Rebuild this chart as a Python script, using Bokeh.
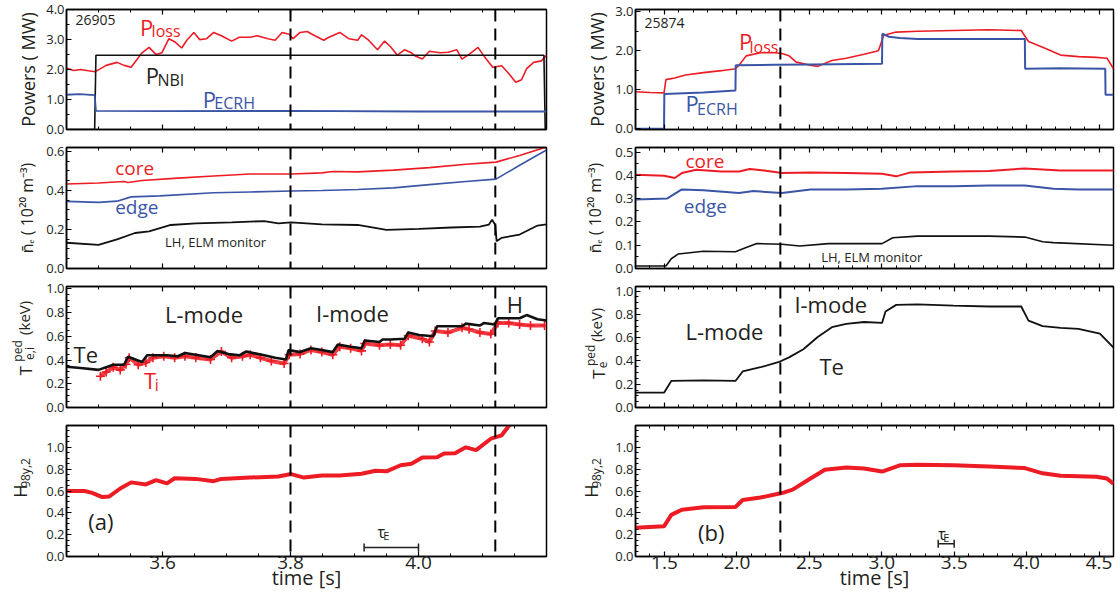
import numpy as np
from bokeh.plotting import figure
from bokeh.layouts import row, column
from bokeh.models import Range1d, LinearAxis, FixedTicker, Span, Label, NumeralTickFormatter
from bokeh.embed import file_html
from bokeh.resources import INLINE

RED = "#ed1c24"
BLUE = "#3a55a6"
BLACK = "#111111"
TXT = "#231f20"
FONT = "Open Sans"

# ---------------- shot 26905 (a) ----------------
a_t_loss = [3.450,3.461,3.472,3.484,3.495,3.512,3.529,3.540,3.551,3.568,3.579,3.590,3.599,3.610,3.619,3.630,
            3.638,3.649,3.658,3.669,3.680,3.692,3.708,3.720,3.737,3.748,3.765,3.776,3.787,3.798,3.804,3.815,
            3.826,3.838,3.852,3.860,3.877,3.891,3.905,3.911,3.922,3.936,3.947,3.956,3.967,3.978,3.989,3.995,
            4.006,4.017,4.034,4.046,4.060,4.068,4.079,4.093,4.104,4.116,4.130,4.141,4.152,4.161,4.169,4.180,
            4.192,4.200]
a_p_loss = [2.05,1.97,2.00,1.96,1.93,2.14,2.24,2.14,2.08,2.56,2.74,2.50,2.56,3.03,2.93,2.72,
            2.98,3.24,3.00,3.03,3.24,3.13,2.95,3.08,3.08,3.13,3.03,2.98,3.24,3.18,3.03,3.24,
            3.27,3.13,2.98,3.08,3.24,3.03,2.98,3.16,2.98,2.66,2.95,2.77,2.48,2.66,2.56,2.45,
            2.35,2.61,2.56,2.58,2.66,2.35,2.51,2.74,2.40,2.08,2.13,1.87,1.58,1.66,2.03,2.24,
            2.29,2.48]
a_t_nbi = [3.450,3.494,3.496,4.196,4.198,4.200]
a_p_nbi = [0.0,0.0,2.48,2.48,0.0,0.0]
a_t_ecrh = [3.450,3.470,3.494,3.496,3.600,3.800,4.000,4.200]
a_p_ecrh = [1.16,1.18,1.15,0.62,0.61,0.62,0.60,0.60]

a_t_core = [3.450,3.500,3.540,3.546,3.568,3.624,3.680,3.737,3.801,3.849,3.866,3.905,3.961,4.017,4.074,4.121,4.158,4.200]
a_n_core = [0.433,0.438,0.446,0.441,0.451,0.463,0.474,0.484,0.484,0.490,0.497,0.495,0.504,0.517,0.534,0.545,0.579,0.623]
a_t_edge = [3.450,3.500,3.529,3.551,3.596,3.680,3.737,3.801,3.849,3.905,3.961,4.017,4.074,4.121,4.158,4.200]
a_n_edge = [0.344,0.339,0.345,0.367,0.372,0.388,0.392,0.397,0.400,0.405,0.413,0.430,0.446,0.458,0.529,0.607]
a_t_mon = [3.450,3.500,3.529,3.557,3.579,3.613,3.652,3.708,3.759,3.781,3.801,3.849,3.905,3.950,4.001,4.051,
           4.096,4.110,4.115,4.120,4.122,4.130,4.158,4.186,4.200]
a_n_mon = [0.132,0.121,0.149,0.182,0.190,0.223,0.231,0.236,0.243,0.231,0.236,0.226,0.223,0.198,0.203,0.210,
           0.215,0.225,0.250,0.223,0.140,0.157,0.174,0.220,0.226]

a_t_te = [3.450,3.472,3.500,3.523,3.540,3.546,3.568,3.576,3.607,3.624,3.635,3.652,3.675,3.686,3.703,3.720,
          3.731,3.759,3.776,3.793,3.797,3.815,3.832,3.849,3.866,3.874,3.894,3.911,3.916,3.939,3.944,3.956,
          3.978,3.984,4.001,4.023,4.029,4.068,4.074,4.096,4.102,4.119,4.124,4.158,4.169,4.186,4.200]
a_te = [0.344,0.333,0.317,0.360,0.360,0.427,0.384,0.440,0.440,0.432,0.459,0.445,0.424,0.477,0.450,0.440,
        0.472,0.440,0.419,0.405,0.485,0.467,0.499,0.485,0.467,0.531,0.512,0.499,0.565,0.552,0.573,0.573,
        0.579,0.632,0.611,0.600,0.685,0.685,0.707,0.691,0.712,0.699,0.752,0.752,0.779,0.744,0.733]
a_t_ti = [3.503,3.512,3.523,3.534,3.543,3.548,3.562,3.574,3.585,3.602,3.619,3.635,3.652,3.675,3.692,3.708,
          3.725,3.737,3.753,3.770,3.790,3.798,3.815,3.832,3.849,3.866,3.877,3.894,3.911,3.916,3.939,3.956,
          3.972,3.984,4.006,4.017,4.026,4.046,4.068,4.079,4.096,4.113,4.124,4.141,4.158,4.175,4.197]
a_ti = [0.264,0.299,0.339,0.317,0.365,0.419,0.360,0.379,0.419,0.432,0.419,0.432,0.419,0.405,0.472,0.419,
        0.432,0.445,0.419,0.392,0.371,0.445,0.451,0.485,0.467,0.445,0.512,0.499,0.477,0.539,0.525,0.531,
        0.525,0.605,0.579,0.552,0.645,0.632,0.672,0.659,0.632,0.619,0.712,0.712,0.699,0.691,0.691]

a_t_h = [3.450,3.478,3.489,3.506,3.517,3.534,3.551,3.562,3.574,3.590,3.607,3.619,3.652,3.680,3.692,3.737,
         3.781,3.801,3.821,3.849,3.877,3.911,3.933,3.950,3.972,3.989,4.006,4.029,4.040,4.057,4.074,4.090,
         4.113,4.130,4.141,4.147]
a_h = [0.600,0.600,0.585,0.544,0.550,0.623,0.679,0.670,0.660,0.700,0.670,0.717,0.711,0.690,0.711,0.723,
       0.733,0.755,0.723,0.742,0.742,0.758,0.786,0.780,0.836,0.849,0.906,0.910,0.943,0.946,1.000,0.975,
       1.079,1.110,1.195,1.230]
a_marks = [3.80, 4.12]
a_tau = [3.915, 4.0]

# ---------------- shot 25874 (b) ----------------
b_t_loss = [1.300,1.400,1.497,1.510,1.571,1.645,1.769,1.892,1.990,2.015,2.064,2.163,2.262,2.311,2.360,2.410,
            2.508,2.558,2.656,2.755,2.878,2.977,3.014,3.100,3.248,3.495,3.741,3.963,4.013,4.111,4.235,4.358,
            4.481,4.555,4.600]
b_p_loss = [0.95,0.93,0.92,1.26,1.30,1.38,1.44,1.49,1.54,1.63,1.87,1.95,1.95,1.93,1.87,1.71,
            1.63,1.60,1.75,1.81,1.91,2.00,2.40,2.48,2.50,2.52,2.54,2.52,2.24,2.09,1.89,1.85,
            1.83,1.81,1.54]
b_t_ecrh = [1.300,1.497,1.499,1.769,1.990,1.992,2.262,2.508,3.002,3.004,3.050,3.125,3.248,3.495,3.741,3.988,
            3.990,4.235,4.543,4.545,4.600]
b_p_ecrh = [0.0,0.0,0.89,0.93,0.98,1.63,1.64,1.65,1.67,2.44,2.36,2.33,2.30,2.30,2.30,2.30,
            1.54,1.55,1.54,0.87,0.87]

b_t_core = [1.300,1.497,1.571,1.620,1.719,1.892,2.015,2.089,2.188,2.311,2.508,2.755,3.002,3.100,3.199,3.495,
            3.741,3.988,4.235,4.600]
b_n_core = [0.403,0.399,0.389,0.410,0.424,0.417,0.417,0.428,0.421,0.410,0.413,0.410,0.407,0.396,0.413,0.417,
            0.419,0.430,0.421,0.421]
b_t_edge = [1.300,1.520,1.620,1.769,2.015,2.114,2.311,2.508,2.755,3.002,3.248,3.495,3.741,3.988,4.185,4.358,4.600]
b_n_edge = [0.296,0.301,0.340,0.336,0.324,0.333,0.324,0.340,0.340,0.343,0.354,0.354,0.357,0.357,0.343,0.340,0.340]
b_t_mon = [1.300,1.510,1.547,1.596,1.769,1.990,2.064,2.138,2.311,2.434,2.632,3.002,3.076,3.248,3.495,3.741,
           3.988,4.111,4.185,4.600]
b_n_mon = [0.011,0.011,0.042,0.0625,0.074,0.072,0.090,0.107,0.104,0.097,0.107,0.107,0.132,0.139,0.139,0.139,
           0.135,0.115,0.111,0.100]

b_t_te = [1.300,1.497,1.547,1.769,1.990,2.040,2.163,2.286,2.360,2.459,2.558,2.656,2.755,2.878,3.002,3.026,
          3.100,3.248,3.495,3.741,3.963,4.013,4.111,4.235,4.358,4.506,4.600]
b_te = [0.127,0.127,0.228,0.234,0.228,0.310,0.346,0.389,0.431,0.501,0.606,0.690,0.718,0.735,0.727,0.825,
        0.882,0.887,0.876,0.868,0.868,0.746,0.699,0.685,0.676,0.634,0.515]

b_t_h = [1.300,1.497,1.547,1.620,1.769,1.990,2.040,2.163,2.311,2.385,2.508,2.607,2.755,2.878,3.002,3.125,
         3.248,3.495,3.741,3.988,4.111,4.235,4.481,4.555,4.600]
b_h = [0.263,0.276,0.381,0.429,0.451,0.454,0.517,0.540,0.581,0.613,0.714,0.794,0.816,0.806,0.778,0.835,
       0.841,0.835,0.825,0.810,0.762,0.740,0.730,0.714,0.667]
b_marks = [2.30]
b_tau = [3.39, 3.50]

A_XT = [3.6, 3.8, 4.0]
B_XT = [1.5, 2.0, 2.5, 3.0, 3.5, 4.0, 4.5]


def style_axis(ax, fs="13px"):
    ax.axis_line_color = "black"
    ax.axis_line_width = 1.5
    ax.major_tick_in = 5
    ax.major_tick_out = 0
    ax.minor_tick_in = 3
    ax.minor_tick_out = 0
    ax.major_tick_line_color = "black"
    ax.minor_tick_line_color = "black"
    ax.major_tick_line_width = 1.2
    ax.major_label_text_font = FONT
    ax.major_label_text_font_size = fs
    ax.major_label_text_color = TXT
    ax.axis_label_text_font = FONT
    ax.axis_label_text_font_style = "normal"
    ax.axis_label_text_color = TXT


def hide_labels(ax):
    ax.major_label_text_color = None
    ax.major_label_text_font_size = "1px"
    ax.major_label_standoff = 0


def make(width, height, xr, yr, yt, ymin, br, bt, bb, xt, xmin, bottom):
    p = figure(width=width, height=height, x_range=Range1d(*xr), y_range=Range1d(*yr),
               output_backend="svg", toolbar_location=None,
               min_border_left=24, min_border_right=br, min_border_top=bt, min_border_bottom=bb)
    p.grid.visible = False
    p.outline_line_color = "black"
    p.outline_line_width = 1.5
    p.xaxis.ticker = FixedTicker(ticks=xt, minor_ticks=xmin)
    p.yaxis.ticker = FixedTicker(ticks=yt, minor_ticks=ymin)
    p.yaxis.formatter = NumeralTickFormatter(format="0.0")
    p.xaxis.formatter = NumeralTickFormatter(format="0.0")
    style_axis(p.xaxis[0], "19px")
    style_axis(p.yaxis[0], "13px")
    p.yaxis.major_label_standoff = 2
    if bottom:
        p.xaxis.axis_label = "time [s]"
        p.xaxis.axis_label_text_font_size = "20px"
        p.xaxis.axis_label_standoff = -8
        p.xaxis.major_label_standoff = -1
    else:
        hide_labels(p.xaxis[0])
    top = LinearAxis(ticker=FixedTicker(ticks=xt, minor_ticks=xmin))
    style_axis(top)
    hide_labels(top)
    p.add_layout(top, "above")
    return p


def lab(p, x, y, text, size, color=TXT, align="left", angle=0.0):
    p.add_layout(Label(x=x, y=y, text=text, text_font=FONT, text_font_size=f"{size}px",
                       text_color=color, text_align=align, text_baseline="middle", angle=angle))


def side_fig(width, height, parts):
    # a narrow figure that carries the rotated y-axis title; coordinates are pixels from its bottom-left
    s = figure(width=width, height=height, x_range=Range1d(0, width), y_range=Range1d(0, height),
               output_backend="svg", toolbar_location=None,
               min_border_left=0, min_border_right=0, min_border_top=0, min_border_bottom=0)
    s.axis.visible = False
    s.grid.visible = False
    s.outline_line_color = None
    for x, y, text, size in parts:
        lab(s, x, y, text, size, TXT, "center", np.pi / 2)
    return s


def marks(p, locs):
    for m in locs:
        p.add_layout(Span(location=m, dimension="height", line_color="black", line_width=2, line_dash="12 7"))


def tau(p, tt, y):
    p.segment(x0=[tt[0]], x1=[tt[1]], y0=[y], y1=[y], line_color=TXT, line_width=1.5)
    p.scatter(tt, [y, y], marker="dash", angle=np.pi / 2, size=8, line_color=TXT, line_width=1.5)


# geometry
SW = 42
LW, RW = 527, 506
H = [138, 139, 139, 182]
BT = [9, 9, 9, 9]
BB = [9, 9, 9, 42]
FH = [H[i] - BT[i] - BB[i] for i in range(4)]

a_xmin = list(np.round(np.arange(3.45, 4.2001, 0.05), 3))
b_xmin = list(np.round(np.arange(1.3, 4.6001, 0.1), 3))

yt1a = [0.0, 1.0, 2.0, 3.0, 4.0]
yt1b = [0.0, 1.0, 2.0, 3.0]
y1min = list(np.arange(0, 4.01, 0.5))
yt2a = [0.0, 0.2, 0.4, 0.6]
y2amin = list(np.round(np.arange(0, 0.62, 0.05), 3))
yt2b = [0.0, 0.1, 0.2, 0.3, 0.4, 0.5]
y2bmin = list(np.round(np.arange(0, 0.52, 0.05), 3))
yt3 = [0.0, 0.2, 0.4, 0.6, 0.8, 1.0]
y3min = list(np.round(np.arange(0, 1.03, 0.05), 3))
yt4 = [0.0, 0.2, 0.4, 0.6, 0.8, 1.0]
y4min = list(np.round(np.arange(0, 1.21, 0.05), 3))

LAB1 = "Powers ( MW)"
LAB2 = "n\u0304\u2091 ( 10\u00b2\u2070 m\u207b\u00b3)"


def mid(i):
    return BB[i] + FH[i] / 2


# ---- column a ----
xa = (3.45, 4.20)
ya = [(0, 4.005), (0, 0.62), (0, 1.02), (0, 1.2)]
a1 = make(LW, H[0], xa, ya[0], yt1a, y1min, 23, BT[0], BB[0], A_XT, a_xmin, False)
a1.line(a_t_loss, a_p_loss, line_color=RED, line_width=1.6)
a1.line(a_t_nbi, a_p_nbi, line_color=BLACK, line_width=1.6)
a1.line(a_t_ecrh, a_p_ecrh, line_color=BLUE, line_width=1.8)
marks(a1, a_marks)
lab(a1, 3.464, 3.64, "26905", 14)
lab(a1, 3.565, 3.43, "P", 22, RED); lab(a1, 3.583, 3.28, "loss", 16, RED)
lab(a1, 3.574, 1.82, "P", 22, TXT); lab(a1, 3.592, 1.66, "NBI", 16, TXT)
lab(a1, 3.663, 1.03, "P", 22, BLUE); lab(a1, 3.681, 0.87, "ECRH", 16, BLUE)

a2 = make(LW, H[1], xa, ya[1], yt2a, y2amin, 23, BT[1], BB[1], A_XT, a_xmin, False)
a2.line(a_t_core, a_n_core, line_color=RED, line_width=1.6)
a2.line(a_t_edge, a_n_edge, line_color=BLUE, line_width=1.6)
a2.line(a_t_mon, a_n_mon, line_color=BLACK, line_width=1.8)
marks(a2, a_marks)
lab(a2, 3.526, 0.517, "core", 19, RED)
lab(a2, 3.526, 0.314, "edge", 19, BLUE)
lab(a2, 3.604, 0.137, "LH, ELM monitor", 13, TXT)

a3 = make(LW, H[2], xa, ya[2], yt3, y3min, 23, BT[2], BB[2], A_XT, a_xmin, False)
a3.line(a_t_ti, a_ti, line_color=RED, line_width=4, alpha=0.85)
a3.scatter(a_t_ti, a_ti, marker="cross", size=9, line_color=RED, line_width=1.6)
a3.line(a_t_te, a_te, line_color=BLACK, line_width=2.6)
marks(a3, a_marks)
lab(a3, 3.604, 0.79, "L-mode", 22)
lab(a3, 3.840, 0.80, "I-mode", 22)
lab(a3, 4.138, 0.872, "H", 22)
lab(a3, 3.461, 0.45, "Te", 22)
lab(a3, 3.571, 0.235, "T", 22, RED); lab(a3, 3.588, 0.19, "i", 16, RED)

a4 = make(LW, H[3], xa, ya[3], yt4, y4min, 23, BT[3], BB[3], A_XT, a_xmin, True)
a4.line(a_t_h, a_h, line_color=RED, line_width=4)
marks(a4, a_marks)
tau(a4, a_tau, 0.082)
lab(a4, 3.484, 0.324, "(a)", 22)
lab(a4, 3.936, 0.225, "\u03c4", 16); lab(a4, 3.945, 0.19, "E", 11)

sa1 = side_fig(SW, H[0], [(27, mid(0), LAB1, 18)])
sa2 = side_fig(SW, H[1], [(26, mid(1), LAB2, 16)])
sa3 = side_fig(SW, H[2], [(25, BB[2] + 33, "T", 17), (17, BB[2] + 56, "ped", 12),
                          (29, BB[2] + 53, "e,i", 12), (23, BB[2] + 94, "(keV)", 15)])
sa4 = side_fig(SW, H[3], [(19, BB[3] + 49, "H", 18), (25, BB[3] + 74, "98y,2", 12)])

# ---- column b ----
xb = (1.3, 4.6)
yb = [(-0.02, 3.06), (0, 0.52), (0, 1.04), (0, 1.2)]
b1 = make(RW, H[0], xb, yb[0], yt1b, y1min[:7], 4, BT[0], BB[0], B_XT, b_xmin, False)
b1.line(b_t_loss, b_p_loss, line_color=RED, line_width=1.6)
b1.line(b_t_ecrh, b_p_ecrh, line_color=BLUE, line_width=2)
marks(b1, b_marks)
lab(b1, 1.362, 2.72, "25874", 14)
lab(b1, 2.015, 2.25, "P", 22, RED); lab(b1, 2.087, 2.10, "loss", 16, RED)
lab(b1, 1.645, 0.65, "P", 22, BLUE); lab(b1, 1.725, 0.50, "ECRH", 16, BLUE)

b2 = make(RW, H[1], xb, yb[1], yt2b, y2bmin, 4, BT[1], BB[1], B_XT, b_xmin, False)
b2.line(b_t_core, b_n_core, line_color=RED, line_width=2)
b2.line(b_t_edge, b_n_edge, line_color=BLUE, line_width=2)
b2.line(b_t_mon, b_n_mon, line_color=BLACK, line_width=1.6)
marks(b2, b_marks)
lab(b2, 1.645, 0.4625, "core", 19, RED)
lab(b2, 1.633, 0.268, "edge", 19, BLUE)
lab(b2, 2.582, 0.051, "LH, ELM monitor", 13, TXT)

b3 = make(RW, H[2], xb, yb[2], yt3, y3min, 4, BT[2], BB[2], B_XT, b_xmin, False)
b3.line(b_t_te, b_te, line_color=BLACK, line_width=1.8)
marks(b3, b_marks)
lab(b3, 1.645, 0.656, "L-mode", 22)
lab(b3, 2.397, 0.887, "I-mode", 22)
lab(b3, 2.570, 0.36, "Te", 22)

b4 = make(RW, H[3], xb, yb[3], yt4, y4min, 4, BT[3], BB[3], B_XT, b_xmin, True)
b4.line(b_t_h, b_h, line_color=RED, line_width=4)
marks(b4, b_marks)
tau(b4, b_tau, 0.117)
lab(b4, 1.732, 0.222, "(b)", 22)
lab(b4, 3.39, 0.21, "\u03c4", 16); lab(b4, 3.425, 0.175, "E", 11)

sb1 = side_fig(SW, H[0], [(27, mid(0), LAB1, 18)])
sb2 = side_fig(SW, H[1], [(25, mid(1), LAB2, 16)])
sb3 = side_fig(SW, H[2], [(29, BB[2] + 29, "T", 17), (21, BB[2] + 51, "ped", 12),
                          (33, BB[2] + 40, "e", 12), (26, BB[2] + 86, "(keV)", 15)])
sb4 = side_fig(SW, H[3], [(21, BB[3] + 49, "H", 18), (27, BB[3] + 74, "98y,2", 12)])

left = column(row(sa1, a1), row(sa2, a2), row(sa3, a3), row(sa4, a4))
right = column(row(sb1, b1), row(sb2, b2), row(sb3, b3), row(sb4, b4))
layout = row(left, right)
open("out.html", "w").write(file_html(layout, INLINE))
